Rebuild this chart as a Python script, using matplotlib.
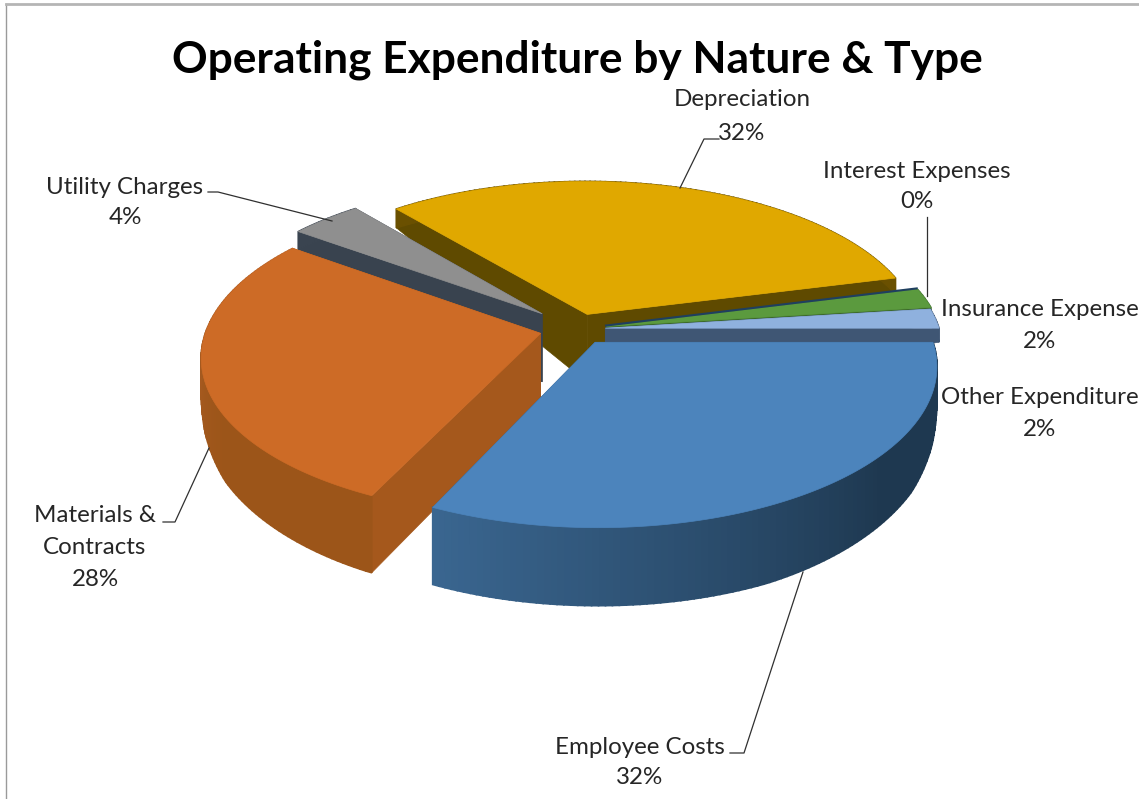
import matplotlib
matplotlib.use('Agg')

import matplotlib.pyplot as plt
from matplotlib.colors import to_rgb
from matplotlib.patches import Polygon
import numpy as np

plt.rcParams['font.family'] = ['Lato', 'DejaVu Sans']

# Share of operating expenditure, clockwise from the three o'clock position
categories = ['Employee Costs', 'Materials & Contracts', 'Utility Charges', 'Depreciation',
              'Interest Expenses', 'Insurance Expense', 'Other Expenditure']
shares = [32, 28, 4, 32, 0, 2, 2]
explode = [0.10, 0.112, 0.145, 0.10, 0.09, 0.09, 0.085]

top_colors = ['#4c84bc', '#cd6b26', '#8f8f8f', '#e0a800', '#1f3f5f', '#5b9a3e', '#8fb1de']
# side colours run from the clockwise start of the rim to its end
side_colors = [('#1e3850', '#3a6690'), ('#9c5519', '#b5622a'), ('#3a4450', '#3a4450'),
               ('#6a5000', '#6a5000'), ('#1f3f5f', '#1f3f5f'), ('#3c6a2a', '#3c6a2a'),
               ('#3f5674', '#3f5674')]
cut_colors = ['#2c4e72', '#a5581c', '#39434f', '#5f4a00', '#1f3f5f', '#3c6a2a', '#3f5674']
draw_order = [3, 2, 5, 4, 6, 1, 0]

# Chart layout in pixels
CX, CY = 577, 329
RX, RY = 334, 155.4
TILT = 0.14
APEX_DEPTH = 68


def project(x, y):
    w = 1 / (1 - TILT * y)
    return CX + RX * x * w, CY + RY * y * w


def rim_depth(theta):
    return np.interp(np.sin(theta), [-1, -0.25, 0, 0.3, 0.5, 0.9, 1], [20, 16, 14, 50, 64, 77, 78])


def draw_slice(ax, start, stop, burst, z, top, side, cut):
    mid = (start + stop) / 2
    dx, dy = burst * np.cos(mid), burst * np.sin(mid)
    apex_x, apex_y = project(dx, dy)

    # a zero share has no body, only a hairline along its angle
    if stop == start:
        sx, sy = project(dx + np.cos(start), dy + np.sin(start))
        ax.plot([apex_x, sx], [apex_y, sy], color=top, lw=1.5, zorder=z)
        return

    theta = np.linspace(start, stop, max(int(np.degrees(stop - start)), 2))
    sx, sy = project(dx + np.cos(theta), dy + np.sin(theta))
    depth = rim_depth(theta)

    # cut faces first, the top face hides whichever one looks away
    for i in (0, -1):
        ax.add_patch(Polygon([(apex_x, apex_y), (sx[i], sy[i]), (sx[i], sy[i] + depth[i]),
                              (apex_x, apex_y + APEX_DEPTH)], fc=cut, ec=cut, lw=0.5, zorder=z))

    # rim drawn as narrow strips to get the shading along it, flat over the first third
    c0, c1 = np.array(to_rgb(side[0])), np.array(to_rgb(side[1]))
    for i in range(len(theta) - 1):
        f = max(i / max(len(theta) - 2, 1) - 0.35, 0) / 0.65
        col = c0 + (c1 - c0) * f
        ax.add_patch(Polygon([(sx[i], sy[i]), (sx[i + 1], sy[i + 1]),
                              (sx[i + 1], sy[i + 1] + depth[i + 1]), (sx[i], sy[i] + depth[i])],
                             fc=col, ec=col, lw=1.2, zorder=z + 0.1))

    ax.add_patch(Polygon(np.column_stack([np.r_[apex_x, sx], np.r_[apex_y, sy]]),
                         fc=top, ec=top, lw=0.5, zorder=z + 0.2))


fig = plt.figure(figsize=(11.39, 7.99), dpi=100)
ax = fig.add_axes([0, 0, 1, 1])
ax.set_xlim(0, 1139)
ax.set_ylim(799, 0)
ax.axis('off')

# Frame of the embedded chart
ax.plot([6, 6], [4, 799], color='#9a9a9a', lw=1)
ax.plot([6, 1139], [4, 4], color='#b5b5b5', lw=2)

edges = np.radians(np.r_[0, np.cumsum(shares)] * 3.6)
for n, i in enumerate(draw_order):
    draw_slice(ax, edges[i], edges[i + 1], explode[i], 2 + n, top_colors[i], side_colors[i], cut_colors[i])

ax.text(577, 60, 'Operating Expenditure by Nature & Type', fontsize=31.9, fontweight='bold',
        ha='center', va='center', color='black', zorder=30)

label_style = dict(fontsize=17.4, ha='center', va='center', color='#262626', zorder=30)
ax.text(742, 100, 'Depreciation', **label_style)
ax.text(742, 133, '32%', **label_style)
ax.text(917, 171, 'Interest Expenses', **label_style)
ax.text(917, 202, '0%', **label_style)
ax.text(1040, 310, 'Insurance Expense', **label_style)
ax.text(1040, 341, '2%', **label_style)
ax.text(1040, 398, 'Other Expenditure', **label_style)
ax.text(1040, 429, '2%', **label_style)
ax.text(640, 747, 'Employee Costs', **label_style)
ax.text(640, 778, '32%', **label_style)
ax.text(95, 515, 'Materials &', **label_style)
ax.text(95, 547, 'Contracts', **label_style)
ax.text(95, 579, '28%', **label_style)
ax.text(125, 187, 'Utility Charges', **label_style)
ax.text(125, 218, '4%', **label_style)

# Leader lines from the labels to their slices
leaders = [
    ([719, 704, 680], [139, 139, 188]),
    ([927, 927], [217, 296]),
    ([208, 218, 332], [192, 192, 221]),
    ([163, 175, 209], [522, 522, 448]),
    ([730, 744, 803], [753, 753, 572]),
]
for xs, ys in leaders:
    ax.plot(xs, ys, color='#303030', lw=0.9, zorder=25)

fig.savefig('out.png', dpi=100)
